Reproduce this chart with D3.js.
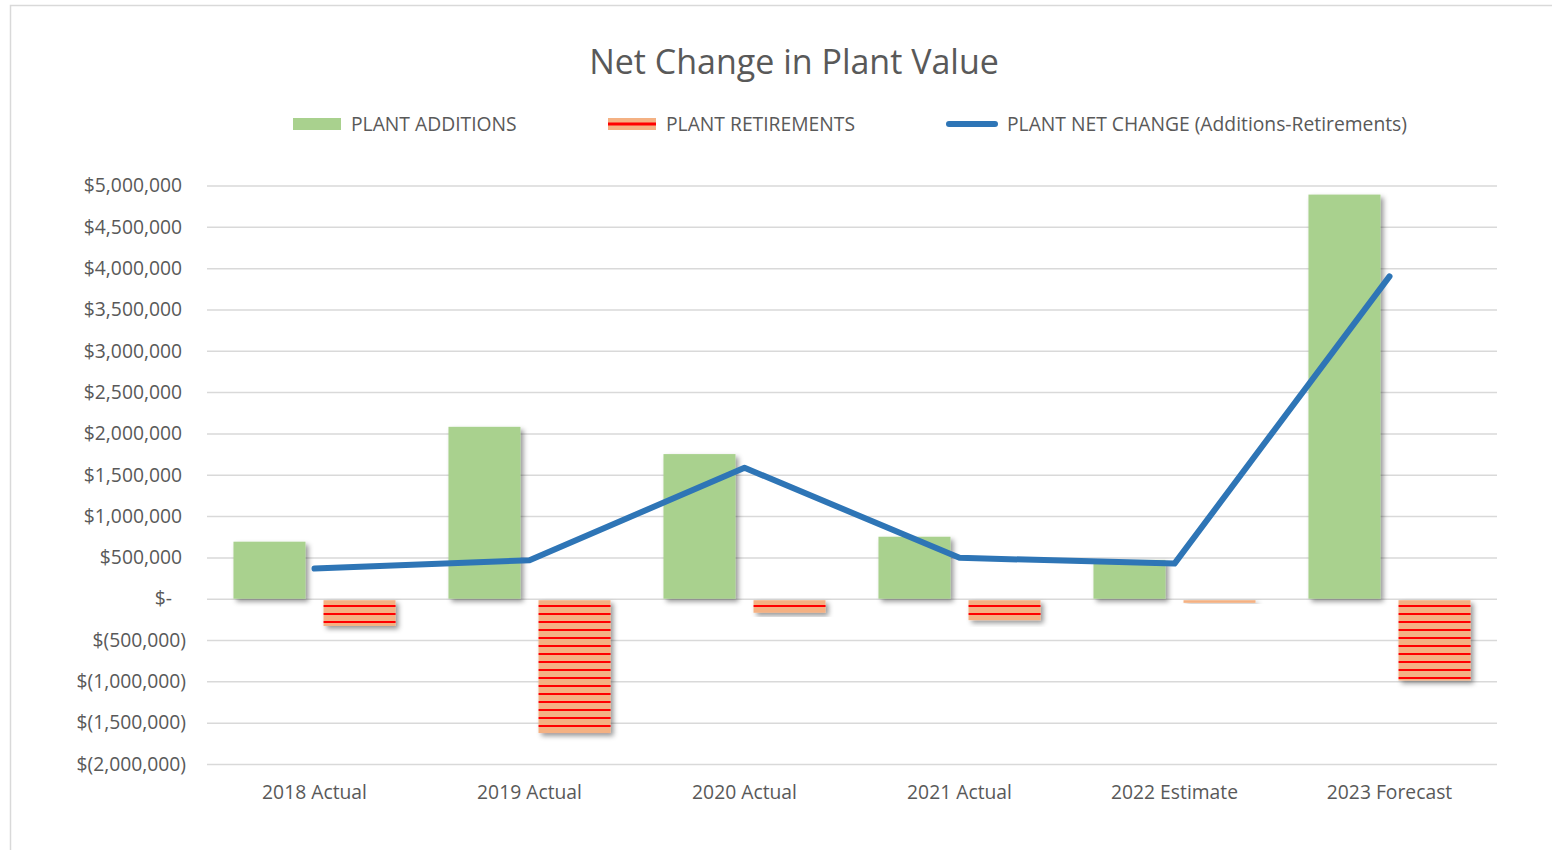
<!DOCTYPE html>
<html>
<head>
<meta charset="utf-8">
<script src="https://cdn.jsdelivr.net/npm/d3@7"></script>
<style>
  body { margin: 0; background: #fff; }
  text { font-family: "Open Sans", "Noto Sans", sans-serif; fill: #595959; }
</style>
</head>
<body>
<div id="chartContainer"></div>
<script>
// values
var categories = ["2018 Actual", "2019 Actual", "2020 Actual", "2021 Actual", "2022 Estimate", "2023 Forecast"];
var additions = [690000, 2080000, 1750000, 750000, 470000, 4890000];
var retirements = [-330000, -1625000, -170000, -260000, -50000, -990000];
var netChange = [365000, 465000, 1585000, 495000, 425000, 3900000];
var yTicks = [-2000000, -1500000, -1000000, -500000, 0, 500000, 1000000, 1500000, 2000000, 2500000, 3000000, 3500000, 4000000, 4500000, 5000000];
var seriesNames = ["PLANT ADDITIONS", "PLANT RETIREMENTS", "PLANT NET CHANGE (Additions-Retirements)"];

var width = 1552, height = 850;
var plot = {left: 207, right: 1497, top: 185.5, bottom: 764};
var fontSize = "19.3px";

var svg = d3.select("#chartContainer")
    .append("svg")
    .attr("width", width)
    .attr("height", height);

var defs = svg.append("defs");

// red horizontal stripes on salmon
var pat = defs.append("pattern")
    .attr("id", "stripes")
    .attr("patternUnits", "userSpaceOnUse")
    .attr("width", 8)
    .attr("height", 8);
pat.append("rect").attr("width", 8).attr("height", 8).attr("fill", "#F4B183");
pat.append("rect").attr("y", 5).attr("width", 8).attr("height", 2)
    .attr("fill", "#FF0000")
    .attr("shape-rendering", "crispEdges");

var shadow = defs.append("filter")
    .attr("id", "shadow")
    .attr("x", "-20%").attr("y", "-20%")
    .attr("width", "150%").attr("height", "150%");
shadow.append("feDropShadow")
    .attr("dx", 3).attr("dy", 3)
    .attr("stdDeviation", 2.5)
    .attr("flood-color", "#000")
    .attr("flood-opacity", 0.4);

// chart frame
svg.append("rect")
    .attr("x", 10.5).attr("y", 5.5)
    .attr("width", 1560).attr("height", 880)
    .attr("fill", "none")
    .attr("stroke", "#D9D9D9")
    .attr("stroke-width", 1.5);

// title
svg.append("text")
    .attr("x", 794)
    .attr("y", 74)
    .attr("text-anchor", "middle")
    .style("font-size", "34px")
    .text("Net Change in Plant Value");

// scales
var yScale = d3.scaleLinear()
    .domain([-2000000, 5000000])
    .range([plot.bottom, plot.top]);

var xScale = d3.scaleBand()
    .domain(categories)
    .range([plot.left, plot.right]);

var xInner = d3.scaleBand()
    .domain(["add", "ret"])
    .range([0, xScale.bandwidth()])
    .paddingInner(0.2)
    .paddingOuter(0.294);

// gridlines
var grid = d3.axisLeft(yScale)
    .tickValues(yTicks)
    .tickSize(-(plot.right - plot.left))
    .tickFormat("");

svg.append("g")
    .attr("class", "grid")
    .attr("transform", "translate(" + plot.left + ",0)")
    .call(grid)
    .call(function(g) { g.select(".domain").remove(); })
    .selectAll("line")
    .attr("stroke", "#D9D9D9")
    .attr("stroke-width", 1.5);

// y labels, accounting style
var fmt = d3.format(",");
function money(v) {
    if (v > 0) return "$" + fmt(v);
    if (v < 0) return "$(" + fmt(-v) + ")";
    return "$-";
}
svg.append("g").selectAll("text")
    .data(yTicks)
    .enter()
    .append("text")
    .attr("x", function(d) { return d > 0 ? 182 : (d < 0 ? 186 : 172); })
    .attr("y", function(d) { return yScale(d); })
    .attr("dy", "0.35em")
    .attr("text-anchor", "end")
    .style("font-size", fontSize)
    .text(money);

// x labels
var xAxis = d3.axisBottom(xScale).tickSize(0).tickPadding(0);
svg.append("g")
    .attr("class", "xAxis")
    .attr("transform", "translate(0," + plot.bottom + ")")
    .call(xAxis)
    .call(function(g) { g.select(".domain").remove(); })
    .selectAll("text")
    .attr("y", 28)
    .attr("dy", "0.35em")
    .style("font-size", fontSize)
    .style("font-family", "'Open Sans', sans-serif")
    .attr("fill", "#595959");

// bars
var groups = svg.append("g").selectAll("g")
    .data(categories)
    .enter()
    .append("g")
    .attr("transform", function(d) { return "translate(" + xScale(d) + ",0)"; });

groups.append("rect")
    .attr("class", "bar")
    .attr("x", xInner("add"))
    .attr("width", xInner.bandwidth())
    .attr("y", function(d, i) { return yScale(additions[i]); })
    .attr("height", function(d, i) { return yScale(0) - yScale(additions[i]); })
    .attr("fill", "#A9D18E")
    .attr("filter", "url(#shadow)");

groups.append("rect")
    .attr("class", "bar")
    .attr("x", xInner("ret"))
    .attr("width", xInner.bandwidth())
    .attr("y", yScale(0) + 1.5)
    .attr("height", function(d, i) { return yScale(retirements[i]) - yScale(0) - 1.5; })
    .attr("fill", "url(#stripes)")
    .attr("filter", "url(#shadow)");

// net change line
var line = d3.line()
    .x(function(d, i) { return xScale(categories[i]) + xScale.bandwidth() / 2; })
    .y(function(d) { return yScale(d); });

svg.append("path")
    .datum(netChange)
    .attr("d", line)
    .attr("fill", "none")
    .attr("stroke", "#2E75B6")
    .attr("stroke-width", 6)
    .attr("stroke-linecap", "round")
    .attr("stroke-linejoin", "round");

// legend
var legend = svg.append("g");
var ly = 124;

legend.append("rect")
    .attr("x", 293).attr("y", ly - 6)
    .attr("width", 48).attr("height", 12)
    .attr("fill", "#A9D18E");
legend.append("text")
    .attr("x", 351).attr("y", ly).attr("dy", "0.35em")
    .style("font-size", fontSize)
    .text(seriesNames[0]);

legend.append("rect")
    .attr("x", 608).attr("y", ly - 6)
    .attr("width", 48).attr("height", 12)
    .attr("fill", "#F4B183");
legend.append("rect")
    .attr("x", 608).attr("y", ly - 1.5)
    .attr("width", 48).attr("height", 3)
    .attr("fill", "#FF0000");
legend.append("text")
    .attr("x", 666).attr("y", ly).attr("dy", "0.35em")
    .style("font-size", fontSize)
    .text(seriesNames[1]);

legend.append("line")
    .attr("x1", 949).attr("x2", 995)
    .attr("y1", ly).attr("y2", ly)
    .attr("stroke", "#2E75B6")
    .attr("stroke-width", 6)
    .attr("stroke-linecap", "round");
legend.append("text")
    .attr("x", 1007).attr("y", ly).attr("dy", "0.35em")
    .style("font-size", fontSize)
    .text(seriesNames[2]);
</script>
</body>
</html>
